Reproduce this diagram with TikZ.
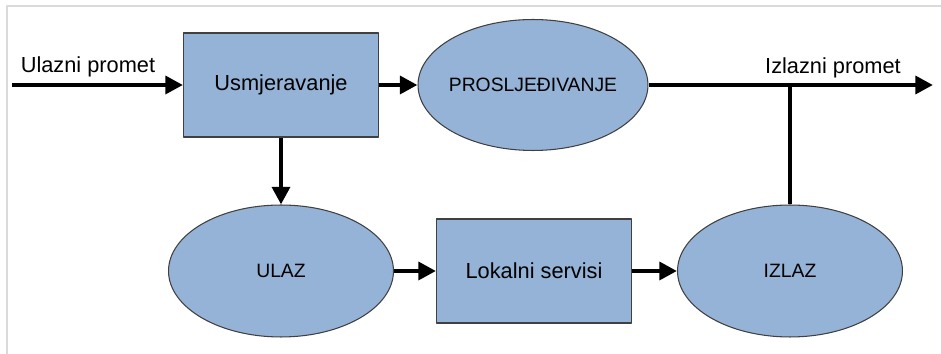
\documentclass[tikz,border=0pt]{standalone}
\usepackage{fontspec}
\setmainfont{Liberation Sans}
\usetikzlibrary{arrows.meta,shapes.geometric}
\definecolor{plava}{HTML}{95B3D7}
\definecolor{rub}{HTML}{404040}
\definecolor{okvir}{HTML}{DADADA}
\begin{document}
\begin{tikzpicture}[x=0.02cm,y=-0.02cm,line join=round,
	kutija/.style={draw=rub,line width=0.6pt,fill=plava,minimum width=3.9cm,minimum height=2.08cm,inner sep=0pt,font=\fontsize{12.4}{14}\selectfont},
	elipsa/.style={ellipse,draw=rub,line width=0.6pt,fill=plava,minimum width=4.5cm,minimum height=2.64cm,inner xsep=-5pt,font=\fontsize{11}{13}\selectfont},
	tok/.style={line width=2.6pt,-{Triangle[length=10pt,width=10pt]}},
	natpis/.style={font=\fontsize{12.4}{14}\selectfont}]
	%==Okvir slike
	\useasboundingbox (0,0) rectangle (941,354);
	\draw[okvir,line width=1.2pt] (7,354)--(7,6)--(941,6);
	%==Čvorovi
	\node[kutija] (usm) at (281,85) {Usmjeravanje};
	\node[elipsa,minimum width=4.6cm,minimum height=2.62cm] (prosl) at (533,85) {PROSLJEĐIVANJE};
	\node[elipsa] (ulaz) at (281,271) {ULAZ};
	\node[kutija] (lok) at (534,271) {Lokalni servisi};
	\node[elipsa] (izlaz) at (790,271) {IZLAZ};
	\coordinate (ulazT) at (12,85);
	\coordinate (izlazT) at (933,85);
	\node[natpis] (ulazL) at (88,67) {Ulazni promet};
	\node[natpis] (izlazL) at (833,68) {Izlazni promet};
	%==Veze
	\draw[tok] (ulazT)--(usm);
	\draw[tok] (usm)--(prosl);
	\draw[tok] (prosl)--(izlazT);
	\draw[tok] (usm)--(ulaz);
	\draw[tok] (ulaz)--(lok);
	\draw[tok] (lok)--(izlaz);
	\draw[line width=2.6pt] (izlaz)--(izlaz|-izlazT);
\end{tikzpicture}
\end{document}
